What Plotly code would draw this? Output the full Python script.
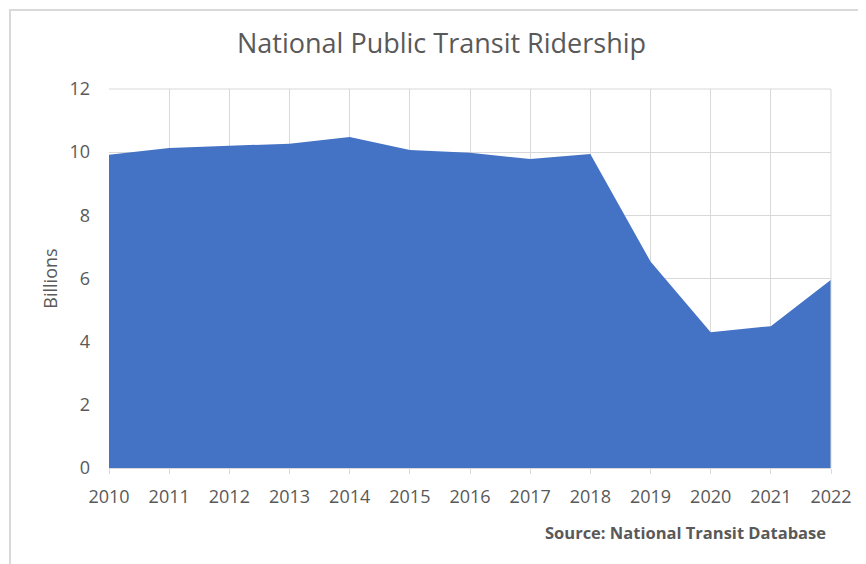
import plotly.graph_objects as go

years = [2010, 2011, 2012, 2013, 2014, 2015, 2016, 2017, 2018, 2019, 2020, 2021, 2022]
ridership_billions = [9.92, 10.13, 10.2, 10.27, 10.48, 10.07, 9.98, 9.78, 9.94, 6.54, 4.3, 4.49, 5.96]
y_ticks = [0, 2, 4, 6, 8, 10, 12]

title_text = "National Public Transit Ridership"
y_title = "Billions"
source_text = "Source: National Transit Database"

font_family = "Open Sans, Noto Sans, sans-serif"
gray = "#595959"
grid = "#d9d9d9"

# page body has an 8px offset; margins compensate
L, T, R, B = 101, 81, 43, 103.5
PW = 866 - L - R
PH = 564 - T - B
OFF = 8


def px_x(p):
    return (p - OFF - L) / PW


def px_y(p):
    return (564 - B + OFF - p) / PH


fig = go.Figure()
fig.add_trace(go.Scatter(
    x=years, y=ridership_billions, mode="lines", fill="tozeroy",
    fillcolor="#4472C4", line=dict(width=0, color="#4472C4"),
    hoverinfo="x+y", showlegend=False,
))

fig.update_layout(
    width=866, height=564,
    margin=dict(l=L, r=R, t=T, b=B),
    paper_bgcolor="white", plot_bgcolor="white",
    font=dict(family=font_family, color=gray),
    xaxis=dict(range=[2010, 2022], tickmode="array", tickvals=years,
               ticktext=[str(y) for y in years],
               showgrid=True, gridcolor=grid, gridwidth=1,
               showline=True, linecolor=grid, linewidth=1,
               ticks="outside", ticklen=5, tickcolor=grid,
               ticklabelstandoff=7,
               tickfont=dict(size=18, color=gray), zeroline=False, mirror=False),
    yaxis=dict(range=[0, 12], tickmode="array", tickvals=y_ticks,
               showgrid=True, gridcolor=grid, gridwidth=1,
               zeroline=False, showline=False, ticks="",
               tickfont=dict(size=18, color=gray), ticklabelstandoff=18,
               title=dict(text=y_title, font=dict(size=18, color=gray), standoff=7)),
    shapes=[
        dict(type="rect", xref="paper", yref="paper",
             x0=px_x(10), x1=px_x(890), y0=px_y(600), y1=px_y(10),
             line=dict(color="#d9d9d9", width=2), fillcolor="rgba(0,0,0,0)", layer="below"),
        dict(type="line", xref="paper", yref="paper", x0=0, x1=1, y0=1, y1=1,
             line=dict(color=grid, width=1)),
        dict(type="line", xref="paper", yref="paper", x0=1, x1=1, y0=0, y1=1,
             line=dict(color=grid, width=1)),
    ],
    annotations=[
        dict(text=title_text, xref="paper", yref="paper",
             x=px_x(441.5), y=px_y(42), xanchor="center", yanchor="middle",
             showarrow=False, font=dict(family=font_family, size=27, color=gray)),
        dict(text="<b>" + source_text + "</b>", xref="paper", yref="paper",
             x=px_x(828), y=px_y(533), xanchor="right", yanchor="middle",
             showarrow=False, font=dict(family=font_family, size=16.5, color=gray)),
    ],
)

fig.write_html("out.html")
